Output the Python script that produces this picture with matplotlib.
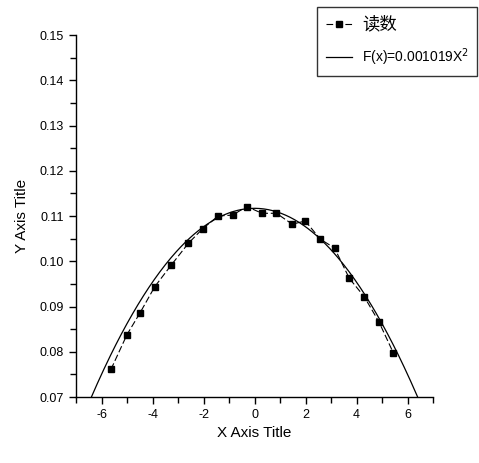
import numpy as np
import matplotlib
matplotlib.use("Agg")
import matplotlib.pyplot as plt
from matplotlib.ticker import MultipleLocator, FormatStrFormatter

plt.rcParams['font.family'] = ['Liberation Sans', 'Noto Sans CJK SC', 'DejaVu Sans']

x_read = [-5.63, -5.0, -4.50, -3.91, -3.26, -2.59, -2.03, -1.43, -0.86, -0.30,
          0.29, 0.86, 1.48, 1.99, 2.58, 3.14, 3.72, 4.30, 4.88, 5.44]
y_read = [0.0761, 0.0838, 0.0885, 0.0944, 0.0992, 0.1040, 0.1072, 0.1100, 0.1102, 0.1121,
          0.1106, 0.1106, 0.1082, 0.1089, 0.1049, 0.1029, 0.0962, 0.0922, 0.0866, 0.0798]
fit_a = 0.001019
fit_c = 0.1117
fit_xmin, fit_xmax = -6.42, 6.42

fig = plt.figure(figsize=(4.79, 4.63), dpi=100)
ax = fig.add_axes([0.1587, 0.1425, 0.904 - 0.1587, 0.9244 - 0.1425])

xf = np.linspace(fit_xmin, fit_xmax, 300)
yf = fit_c - fit_a * xf ** 2
l1, = ax.plot(x_read, y_read, color='black', linestyle=(0, (6, 2.5)), lw=0.8,
              marker='s', markersize=5, markerfacecolor='black', markeredgecolor='black')
l2, = ax.plot(xf, yf, color='black', lw=0.9)

ax.set_xlim(-7, 7)
ax.set_ylim(0.07, 0.15)
ax.spines['top'].set_visible(False)
ax.spines['right'].set_visible(False)
ax.spines['left'].set_linewidth(1.0)
ax.spines['bottom'].set_linewidth(1.0)
ax.xaxis.set_major_locator(MultipleLocator(2))
ax.xaxis.set_minor_locator(MultipleLocator(1))
ax.yaxis.set_major_locator(MultipleLocator(0.01))
ax.yaxis.set_minor_locator(MultipleLocator(0.005))
ax.xaxis.set_major_formatter(FormatStrFormatter('%d'))
ax.yaxis.set_major_formatter(FormatStrFormatter('%.2f'))
ax.tick_params(which='major', direction='out', length=5, width=1, labelsize=9)
ax.tick_params(which='minor', direction='out', length=4, width=1)
ax.set_xlabel('X Axis Title', fontsize=11, labelpad=4)
ax.set_ylabel('Y Axis Title', fontsize=11, labelpad=8)

leg = fig.legend([l1, l2], ['读数', 'F(x)=0.001019X$^2$'],
                 loc='upper right', bbox_to_anchor=(477 / 479, 1 - 7 / 463),
                 fontsize=10, frameon=True, fancybox=False, edgecolor='black',
                 handlelength=1.9, handletextpad=0.7, borderpad=0.6,
                 labelspacing=1.0, borderaxespad=0.0)
leg.get_frame().set_linewidth(1.0)
leg.get_texts()[0].set_fontsize(12.5)

fig.savefig('out.png', dpi=100)
